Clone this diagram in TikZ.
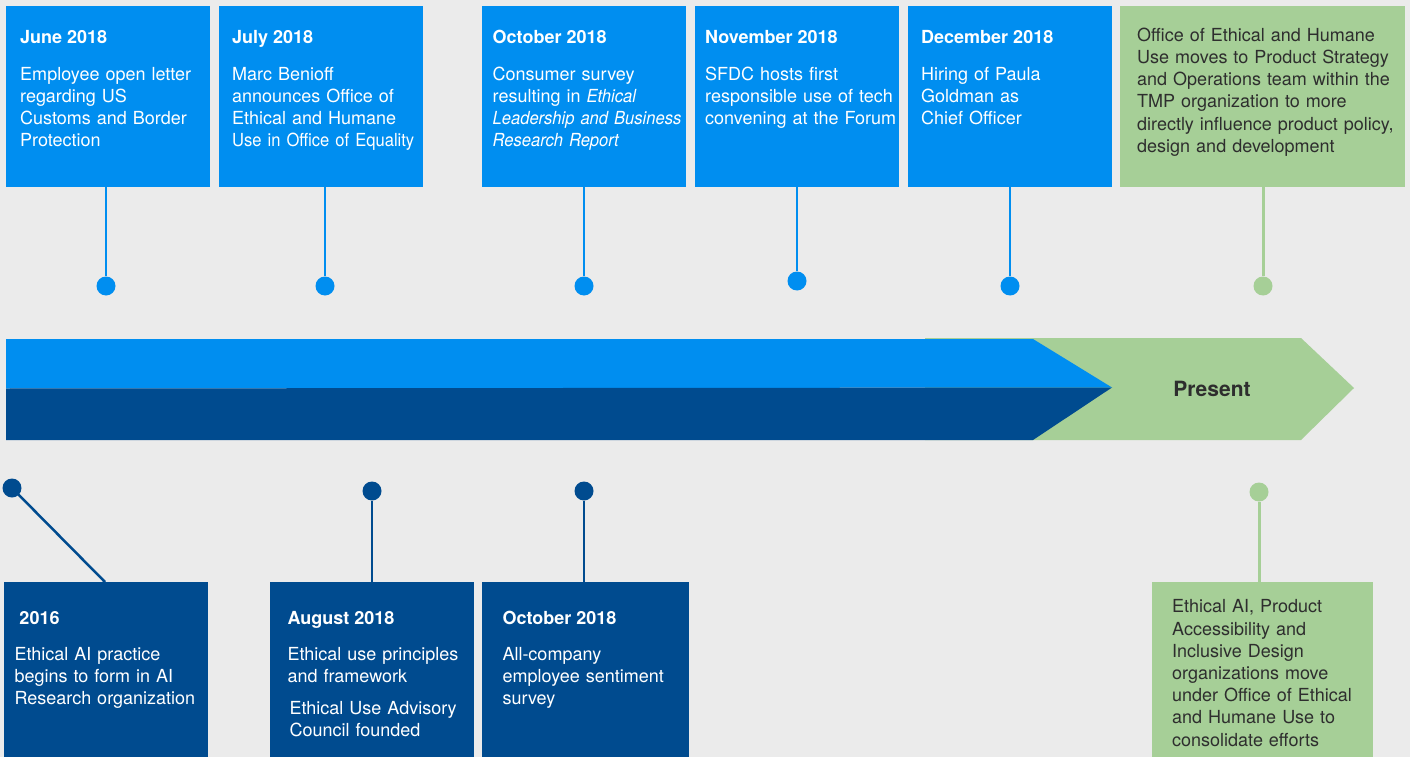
\documentclass[tikz,border=0pt]{standalone}
\usepackage{fontspec}
\setmainfont{TeX Gyre Heros}
\newfontfamily\narrowfont[FakeStretch=0.92]{TeX Gyre Heros}
\definecolor{topblue}{HTML}{008EF0}
\definecolor{darkblue}{HTML}{004B8F}
\definecolor{lgreen}{HTML}{A6CF97}
\definecolor{bgray}{HTML}{EBEBEB}
\definecolor{txtdark}{HTML}{2E2E2E}
\tikzset{
  box/.style={anchor=north west, inner sep=0pt, outer sep=0pt, draw=none, minimum height=181pt},
  tbox/.style={box, fill=topblue},
  dbox/.style={box, fill=darkblue},
  gbox/.style={box, fill=lgreen},
  ttl/.style={anchor=base west, inner sep=0pt, font=\fontsize{18}{22}\selectfont\bfseries, text=white},
  body/.style={anchor=north west, inner sep=0pt, text width=270pt, align=left, font=\fontsize{18}{22}\selectfont, text=white, execute at begin node=\strut},
  gbody/.style={body, text=txtdark, font=\fontsize{18}{22.2}\selectfont},
  tdot/.style={circle, fill=topblue, minimum size=19pt, inner sep=0pt},
  ddot/.style={circle, fill=darkblue, minimum size=19pt, inner sep=0pt},
  gdot/.style={circle, fill=lgreen, minimum size=19pt, inner sep=0pt},
  tline/.style={draw=topblue, line width=2.5pt},
  dline/.style={draw=darkblue, line width=2.5pt},
  gline/.style={draw=lgreen, line width=3pt},
}
\begin{document}
\begin{tikzpicture}[x=1pt,y=-1pt]
\useasboundingbox (0,0) rectangle (1410,757);
\fill[bgray] (0,0) rectangle (1410,757);

% timeline arrow
\fill[lgreen] (925,338) -- (1301,338) -- (1354,388) -- (1301,440) -- (925,440) -- cycle;
\fill[topblue] (6,339) -- (1033,339) -- (1112,387.5) -- (6,388.5) -- cycle;
\fill[darkblue] (6,388.5) -- (1112,387.5) -- (1033,440) -- (6,440) -- cycle;
\node[font=\fontsize{21}{24}\selectfont\bfseries, text=txtdark, inner sep=0pt] (present) at (1212,389) {Present};

% top boxes
\node[tbox, minimum width=204pt] (b1) at (6,6) {};
\node[ttl] (t1) at (20,43.5) {June 2018};
\node[body] (x1) at (20,64.6) {Employee open letter\\regarding US\\Customs and Border\\Protection};

\node[tbox, minimum width=204pt] (b2) at (219,6) {};
\node[ttl] (t2) at (232,43.5) {July 2018};
\node[body] (x2) at (232,64.6) {Marc Benioff\\announces Office of\\Ethical and Humane\\{\narrowfont Use in Office of Equality}};

\node[tbox, minimum width=204pt] (b3) at (482,6) {};
\node[ttl] (t3) at (492.5,43.5) {October 2018};
\node[body] (x3) at (492.5,64.6) {Consumer survey\\resulting in {\narrowfont\itshape Ethical}\\{\narrowfont\itshape Leadership and Business}\\{\narrowfont\itshape Research Report}};

\node[tbox, minimum width=204pt] (b4) at (695,6) {};
\node[ttl] (t4) at (705,43.5) {November 2018};
\node[body] (x4) at (705,64.6) {SFDC hosts first\\responsible use of tech\\convening at the Forum};

\node[tbox, minimum width=204pt] (b5) at (908,6) {};
\node[ttl] (t5) at (921,43.5) {December 2018};
\node[body] (x5) at (921,64.6) {Hiring of Paula\\Goldman as\\Chief Officer};

\node[gbox, minimum width=285pt] (g1) at (1120,6) {};
\node[gbody] (x6) at (1137,25.6) {Office of Ethical and Humane\\Use moves to Product Strategy\\and Operations team within the\\TMP organization to more\\directly influence product policy,\\design and development};

% top dots and connectors
\node[tdot] (d1) at (106,286) {};
\node[tdot] (d2) at (325,286) {};
\node[tdot] (d3) at (584,286) {};
\node[tdot] (d4) at (797,281) {};
\node[tdot] (d5) at (1010,286) {};
\node[gdot] (d6) at (1263,286) {};
\draw[tline] (b1.south -| d1) -- (d1);
\draw[tline] (b2.south -| d2) -- (d2);
\draw[tline] (b3.south -| d3) -- (d3);
\draw[tline] (b4.south -| d4) -- (d4);
\draw[tline] (b5.south -| d5) -- (d5);
\draw[gline] (g1.south -| d6) -- (d6);

% bottom boxes
\node[dbox, minimum width=204pt, minimum height=175pt] (ba) at (4,582) {};
\node[ttl] (ta) at (19.3,624) {2016};
\node[body] (xa) at (14.3,644.6) {Ethical AI practice\\begins to form in AI\\Research organization};

\node[dbox, minimum width=204pt, minimum height=175pt] (bb) at (270,582) {};
\node[ttl] (tb) at (287.3,624) {August 2018};
\node[body] (xb) at (287.3,644.6) {Ethical use principles\\and framework};
\node[body] (xb2) at (289.3,698.9) {Ethical Use Advisory\\Council founded};

\node[dbox, minimum width=207pt, minimum height=175pt] (bc) at (482,582) {};
\node[ttl] (tc) at (502.3,624) {October 2018};
\node[body] (xc) at (502.3,644.6) {All-company\\employee sentiment\\survey};

\node[gbox, minimum width=221pt, minimum height=175pt] (gb) at (1152,582) {};
\node[gbody] (xg) at (1172,597.2) {Ethical AI, Product\\Accessibility and\\Inclusive Design\\organizations move\\under Office of Ethical\\and Humane Use to\\consolidate efforts};

% bottom dots and connectors
\node[ddot] (d7) at (12,488) {};
\node[ddot] (d8) at (372,491) {};
\node[ddot] (d9) at (584,491) {};
\node[gdot] (d10) at (1259,492) {};
\coordinate (ca) at (105,582);
\draw[dline] (d7.center) -- (ca);
\draw[dline] (bb.north -| d8) -- (d8);
\draw[dline] (bc.north -| d9) -- (d9);
\draw[gline] (gb.north -| d10) -- (d10);
\end{tikzpicture}
\end{document}
